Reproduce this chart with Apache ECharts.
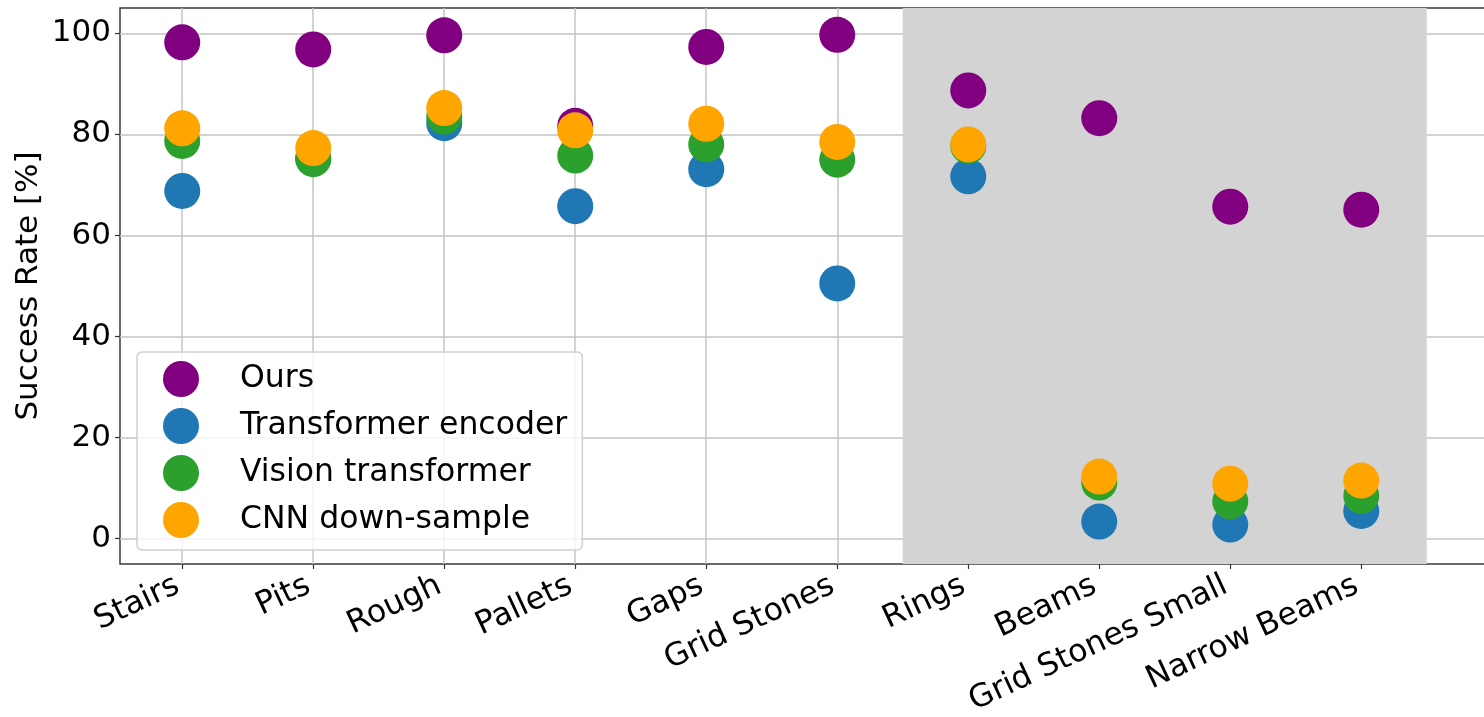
<!DOCTYPE html>
<html>
<head>
<meta charset="utf-8">
<script src="https://cdn.jsdelivr.net/npm/echarts@6/dist/echarts.min.js"></script>
<style>html,body{margin:0;padding:0;background:#fff;}#c{width:1484px;height:717px;}</style>
</head>
<body>
<div id="c"></div>
<script>
const categories = ['Stairs','Pits','Rough','Pallets','Gaps','Grid Stones','Rings','Beams','Grid Stones Small','Narrow Beams'];
const ours = [98.2, 96.8, 99.6, 81.7, 97.3, 99.7, 88.7, 83.2, 65.7, 65.1];
const transformerEncoder = [68.8, 75.3, 82.2, 65.8, 73.1, 50.5, 71.7, 3.4, 2.8, 5.5];
const visionTransformer = [78.7, 75.1, 83.5, 75.8, 78.0, 75.0, 77.7, 11.1, 7.4, 8.5];
const cnnDownSample = [81.2, 77.3, 85.2, 80.8, 82.1, 78.5, 78.0, 12.3, 10.9, 11.5];
const yTicks = [0, 20, 40, 60, 80, 100];
const shadedRange = [5.5, 9.5];

const idx = categories.map((c, i) => i);
const font = 'DejaVu Sans';
function pts(arr) { return arr.map((v, i) => [i, v]); }
function sc(name, data, color) {
  return { name, type: 'scatter', data: pts(data), symbol: 'circle', symbolSize: 36,
    itemStyle: { color: color, opacity: 1 }, emphasis: { disabled: true } };
}
const chart = echarts.init(document.getElementById('c'), null, { renderer: 'canvas' });
chart.setOption({
  animation: false,
  textStyle: { fontFamily: font },
  grid: { left: 120, top: 8, width: 1369, height: 556, show: true, borderColor: '#3a3a3a', borderWidth: 1.5,
    backgroundColor: 'transparent', containLabel: false, outerBoundsMode: 'none' },
  xAxis: {
    type: 'value', min: -0.475, max: 9.975,
    axisLine: { show: false, onZero: false },
    axisTick: { show: true, customValues: idx, length: 5, lineStyle: { color: '#333', width: 1.2 } },
    axisLabel: { customValues: idx, rotate: 25, margin: 18, fontSize: 31.5, color: '#000', fontFamily: font,
      padding: [0, 5, 0, 0],
      formatter: v => categories[Math.round(v)] },
    splitLine: { show: true, lineStyle: { color: '#c4c4c4', width: 1.5 } }
  },
  yAxis: {
    type: 'value', min: -5, max: 105,
    name: 'Success Rate [%]', nameLocation: 'middle', nameGap: 76, nameMoveOverlap: false,
    nameTextStyle: { fontSize: 31, color: '#000', fontFamily: font },
    axisLine: { show: false, onZero: false },
    axisTick: { show: true, customValues: yTicks, length: 5, lineStyle: { color: '#333', width: 1.2 } },
    axisLabel: { customValues: yTicks, fontSize: 31, color: '#000', margin: 9, fontFamily: font },
    splitLine: { show: true, lineStyle: { color: '#c4c4c4', width: 1.5 } }
  },
  legend: {
    orient: 'vertical', left: 137, top: 352,
    padding: [9, 15, 12, 26], itemGap: 11, itemWidth: 36, itemHeight: 36, icon: 'circle',
    backgroundColor: 'rgba(255,255,255,0.8)', borderColor: '#d0d0d0', borderWidth: 1.5, borderRadius: 5,
    textStyle: { fontSize: 31.5, color: '#000', fontFamily: font, padding: [0, 0, 0, 36] },
    data: ['Ours', 'Transformer encoder', 'Vision transformer', 'CNN down-sample']
  },
  series: [
    { type: 'scatter', data: [], z: -1, silent: true,
      markArea: { silent: true, itemStyle: { color: '#d3d3d3' },
        data: [[{ xAxis: shadedRange[0], yAxis: -5 }, { xAxis: shadedRange[1], yAxis: 105 }]] } },
    sc('Ours', ours, '#800080'),
    sc('Transformer encoder', transformerEncoder, '#1f77b4'),
    sc('Vision transformer', visionTransformer, '#2ca02c'),
    sc('CNN down-sample', cnnDownSample, '#ffa500')
  ]
});
</script>
</body>
</html>
